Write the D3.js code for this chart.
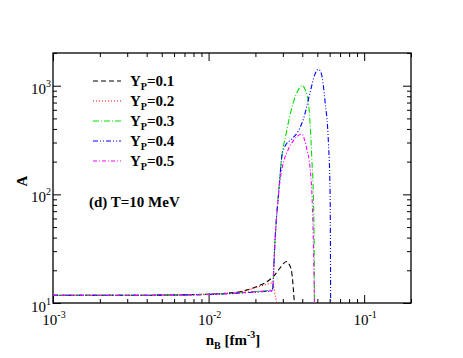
<!DOCTYPE html>
<html>
<head>
<meta charset="utf-8">
<script src="https://cdn.jsdelivr.net/npm/d3@7"></script>
<style>
body { margin: 0; background: #fff; }
text { font-family: "Liberation Serif", "DejaVu Serif", serif; }
</style>
</head>
<body>
<div id="area"></div>
<script>
var width = 463;
var height = 358;

// series: [n_B, A]
var yp01 = [[0.001,11.8],[0.002,11.8],[0.004,11.8],[0.006,11.85],[0.008,11.95],[0.01,12.05],[0.012,12.2],[0.014,12.45],[0.016,12.7],[0.018,13.3],[0.0204,14.2],[0.0237,15.7],[0.0261,17.5],[0.0288,21],[0.0305,23.3],[0.0318,24.1],[0.0331,22.5],[0.0343,18.8],[0.0351,13.2],[0.0356,10]];
var yp02 = [[0.001,11.8],[0.002,11.8],[0.004,11.8],[0.006,11.85],[0.008,11.95],[0.01,12.05],[0.012,12.2],[0.014,12.4],[0.016,12.65],[0.018,13.2],[0.0204,14],[0.0237,14.9],[0.0258,15.3],[0.0264,13.5],[0.0269,11.4],[0.0275,10]];
var yp03 = [[0.001,11.8],[0.002,11.8],[0.004,11.8],[0.006,11.85],[0.008,11.9],[0.01,12],[0.014,12.3],[0.018,12.6],[0.022,12.9],[0.0255,13.2],[0.0259,14],[0.0262,20],[0.0268,40],[0.0275,68],[0.0281,100],[0.0288,150],[0.0296,228],[0.0311,330],[0.0326,461],[0.0351,706],[0.0375,900],[0.0401,1007],[0.042,900],[0.0438,706],[0.045,429],[0.0461,211],[0.0472,90],[0.0477,35],[0.0479,10]];
var yp04 = [[0.001,11.8],[0.002,11.8],[0.004,11.8],[0.006,11.85],[0.008,11.9],[0.01,12],[0.014,12.2],[0.018,12.5],[0.022,12.7],[0.0255,12.9],[0.0259,14],[0.0262,20],[0.0268,40],[0.0275,68],[0.0281,96],[0.0288,148],[0.0296,226],[0.0311,280],[0.0343,323],[0.0378,385],[0.0407,495],[0.045,875],[0.048,1250],[0.0508,1416],[0.053,1300],[0.0561,706],[0.0589,301],[0.0604,104],[0.0609,10]];
var yp05 = [[0.001,11.8],[0.002,11.8],[0.004,11.8],[0.006,11.85],[0.008,11.9],[0.01,12],[0.014,12.25],[0.018,12.55],[0.022,12.8],[0.0255,13],[0.0259,14],[0.0262,20],[0.0268,40],[0.0275,68],[0.0281,96],[0.0288,135],[0.0296,170],[0.0303,197],[0.0326,261],[0.0351,312],[0.0375,345],[0.0398,360],[0.0413,320],[0.0428,261],[0.045,170],[0.0461,104],[0.0468,55],[0.0474,25],[0.0479,10]];

var ypLabels = ["0.1", "0.2", "0.3", "0.4", "0.5"];
var colors = ["#000000", "#ff0000", "#00e000", "#0000ff", "#ff00ff"];
var dashes = ["5,3", "1,2", "6,2,1,2", "5,2,1,2,1,2", "4,2,1,2"];
var allSeries = [yp01, yp02, yp03, yp04, yp05];

var xMajor = [1e-3, 1e-2, 1e-1];
var xExp = ["-3", "-2", "-1"];
var yMajor = [10, 100, 1000];
var yExp = ["1", "2", "3"];

var pL = 53, pR = 411, pT = 53, pB = 303;

var x = d3.scaleLog().domain([1e-3, 0.2]).range([pL, pR]);
var y = d3.scaleLog().domain([10, 2000]).range([pB, pT]);

var svg = d3.select("#area").append("svg")
    .attr("width", width)
    .attr("height", height);

svg.append("defs").append("clipPath").attr("id", "clip")
  .append("rect")
    .attr("x", pL).attr("y", pT)
    .attr("width", pR - pL).attr("height", pB - pT);

// minor ticks
var xMinor = [];
[1e-3, 1e-2, 1e-1].forEach(function(d) {
    for (var k = 2; k <= 9; k++) { if (d * k <= 0.2) xMinor.push(d * k); }
});
var yMinor = [];
[10, 100, 1000].forEach(function(d) {
    for (var k = 2; k <= 9; k++) { if (d * k <= 2000) yMinor.push(d * k); }
});

function axes(axisFn, scale, pos, major, minor) {
    var g = svg.append("g").attr("transform", pos);
    g.append("g").call(axisFn(scale).tickValues(major).tickSize(-8).tickFormat(""));
    g.append("g").call(axisFn(scale).tickValues(minor).tickSize(-4).tickFormat(""));
    g.selectAll(".domain").remove();
    g.selectAll("line").attr("stroke", "#000").attr("stroke-width", 1);
}
axes(d3.axisBottom, x, "translate(0," + pB + ")", xMajor, xMinor);
axes(d3.axisTop, x, "translate(0," + pT + ")", xMajor, xMinor);
axes(d3.axisLeft, y, "translate(" + pL + ",0)", yMajor, yMinor);
axes(d3.axisRight, y, "translate(" + pR + ",0)", yMajor, yMinor);

svg.append("rect") // frame
    .attr("x", pL).attr("y", pT)
    .attr("width", pR - pL).attr("height", pB - pT)
    .attr("fill", "none").attr("stroke", "#000").attr("stroke-width", 1.3);

// tick labels
xMajor.forEach(function(d, i) {
    var t = svg.append("text")
        .attr("x", x(d) + 1).attr("y", 325)
        .attr("text-anchor", "middle")
        .attr("font-size", 15);
    t.append("tspan").text("10");
    t.append("tspan").attr("dy", -7).attr("font-size", 10).text(xExp[i]);
});
yMajor.forEach(function(d, i) {
    var t = svg.append("text")
        .attr("x", 51).attr("y", y(d) + (i == 0 ? 9 : 8))
        .attr("text-anchor", "end")
        .attr("font-size", 15);
    t.append("tspan").text("10");
    t.append("tspan").attr("dy", -7).attr("font-size", 10).text(yExp[i]);
});

// axis titles
var xl = svg.append("text")
    .attr("x", 233).attr("y", 345)
    .attr("text-anchor", "middle")
    .attr("font-size", 15).attr("font-weight", "bold");
xl.append("tspan").text("n");
xl.append("tspan").attr("dy", 4).attr("font-size", 10).text("B");
xl.append("tspan").attr("dy", -4).text(" [fm");
xl.append("tspan").attr("dy", -7).attr("font-size", 10).text("-3");
xl.append("tspan").attr("dy", 7).text("]");

svg.append("text")
    .attr("transform", "translate(27,181) rotate(-90)")
    .attr("text-anchor", "middle")
    .attr("font-size", 15).attr("font-weight", "bold")
    .text("A");

svg.append("text")
    .attr("x", 89).attr("y", 207)
    .attr("font-size", 15).attr("font-weight", "bold")
    .text("(d) T=10 MeV");

// curves
var line = d3.line()
    .x(function(d) { return x(d[0]); })
    .y(function(d) { return y(d[1]); })
    .curve(d3.curveMonotoneX);

svg.append("g").attr("clip-path", "url(#clip)")
  .selectAll("path")
  .data(allSeries)
  .enter().append("path")
    .attr("d", line)
    .attr("fill", "none")
    .attr("stroke", function(d, i) { return colors[i]; })
    .attr("stroke-width", 1.1)
    .attr("stroke-dasharray", function(d, i) { return dashes[i]; });

// legend
var leg = svg.append("g").selectAll("g")
    .data(ypLabels)
    .enter().append("g")
    .attr("transform", function(d, i) { return "translate(0," + (81 + i * 20) + ")"; });

leg.append("line")
    .attr("x1", 93).attr("x2", 121)
    .attr("stroke", function(d, i) { return colors[i]; })
    .attr("stroke-width", 1.1)
    .attr("stroke-dasharray", function(d, i) { return dashes[i]; });

var lt = leg.append("text")
    .attr("x", 130).attr("y", 5)
    .attr("font-size", 15).attr("font-weight", "bold");
lt.append("tspan").text("Y");
lt.append("tspan").attr("dy", 4).attr("font-size", 10).text("P");
lt.append("tspan").attr("dy", -4).text(function(d) { return "=" + d; });
</script>
</body>
</html>
